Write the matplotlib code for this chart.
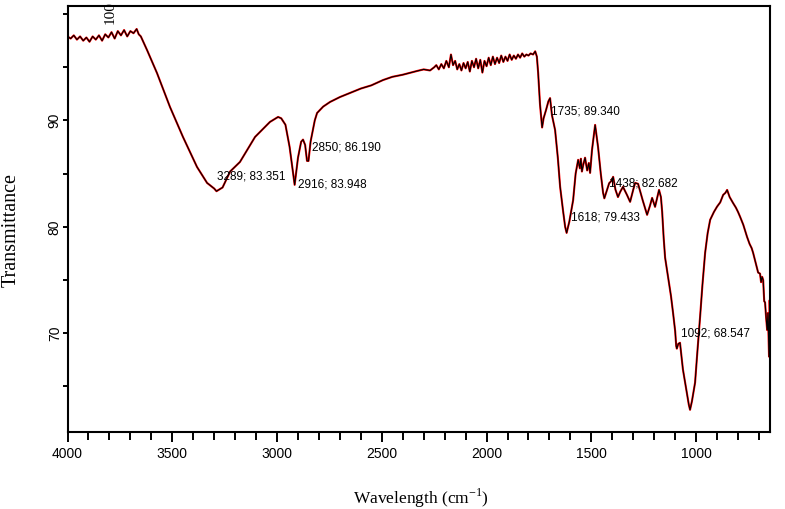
import matplotlib
matplotlib.use('Agg')
import matplotlib.pyplot as plt
from matplotlib.ticker import MultipleLocator

# FTIR spectrum, values
wavenumber = [
    4000, 3985, 3970, 3955, 3940, 3925, 3910, 3895, 3880, 3865, 3850, 3835, 3820,
    3805, 3790, 3775, 3760, 3745, 3730, 3715, 3700, 3685, 3670, 3660, 3650,
    3620, 3573, 3511, 3449, 3382, 3334, 3300, 3289, 3260, 3224, 3177, 3105,
    3034, 2995, 2980, 2960, 2940, 2916, 2900, 2885, 2876, 2866, 2857, 2850,
    2840, 2820, 2809, 2780, 2747, 2700, 2652, 2600, 2550, 2494, 2450, 2400,
    2332, 2300, 2270, 2250,
    2240, 2228, 2216, 2204, 2192, 2180, 2170, 2160, 2150, 2140, 2130, 2120,
    2110, 2100, 2090, 2080, 2070, 2060, 2050, 2040, 2030, 2020, 2010, 2000,
    1990, 1980, 1970, 1960, 1950, 1940, 1930, 1920, 1910, 1900, 1890, 1880,
    1870, 1860, 1850, 1840, 1830, 1820, 1810, 1800, 1790, 1778, 1768, 1760,
    1754, 1745, 1735, 1728, 1716, 1705, 1697, 1688, 1673, 1660, 1649, 1635,
    1625, 1618, 1605, 1587, 1575, 1563, 1555, 1550, 1545, 1539, 1530, 1520,
    1512, 1506, 1497, 1482, 1468, 1455, 1444, 1438, 1425, 1415, 1405, 1396,
    1385, 1373, 1362, 1349, 1330, 1315, 1300, 1291, 1277, 1255, 1234, 1220,
    1210, 1196, 1185, 1177, 1168, 1162, 1155, 1148, 1134, 1120, 1110, 1100,
    1095, 1092, 1085, 1077, 1063, 1043, 1035, 1029, 1020, 1005, 995, 981,
    970, 957, 945, 933, 915, 900, 885, 871, 860, 852, 840, 824, 810, 800,
    790, 775, 757, 745, 735, 728, 718, 710, 704, 695, 690, 685, 680, 675,
    671, 666, 661, 657, 652, 649, 647,
]
transmittance = [
    97.9, 97.7, 98.0, 97.6, 97.9, 97.5, 97.8, 97.4, 97.9, 97.6, 98.0, 97.5, 98.1,
    97.8, 98.3, 97.7, 98.4, 98.0, 98.5, 97.9, 98.4, 98.2, 98.6, 98.1, 97.9,
    96.6, 94.46, 91.27, 88.45, 85.63, 84.13, 83.6, 83.35, 83.7, 85.2, 86.1, 88.45,
    89.86, 90.33, 90.2, 89.6, 87.5, 83.95, 86.5, 88.0, 88.2, 87.7, 86.2, 86.19,
    88.0, 90.0, 90.7, 91.3, 91.74, 92.2, 92.58, 93.0, 93.3, 93.8, 94.1, 94.3,
    94.65, 94.8, 94.7, 95.0,
    95.2, 94.8, 95.3, 94.9, 95.6, 95.0, 96.2, 95.2, 95.6, 94.8, 95.3, 94.7,
    95.4, 94.9, 95.5, 94.6, 95.6, 95.0, 95.8, 94.9, 95.7, 94.5, 95.6, 95.1,
    95.9, 95.2, 96.0, 95.3, 95.9, 95.4, 96.1, 95.5, 96.0, 95.6, 96.2, 95.7,
    96.1, 95.8, 96.2, 95.9, 96.3, 96.0, 96.2, 96.1, 96.3, 96.2, 96.5, 96.0,
    94.5, 91.5, 89.34, 90.2, 91.0, 91.8, 92.1, 90.5, 89.1, 86.5, 83.76, 81.5,
    80.0, 79.43, 80.5, 82.5, 85.0, 86.3, 85.5, 86.4, 85.2, 85.8, 86.5, 85.3,
    86.0, 85.07, 87.2, 89.58, 87.5, 85.0, 83.2, 82.68, 83.5, 84.1, 84.3, 84.7,
    83.5, 82.8, 83.3, 83.76, 83.0, 82.35, 83.5, 84.13, 84.04, 82.5, 81.13, 82.0,
    82.72, 81.88, 82.8, 83.47, 82.8, 81.4, 79.0, 77.1, 75.3, 73.5, 71.9, 70.2,
    68.8, 68.55, 69.0, 69.1, 66.6, 64.2, 63.3, 62.8, 63.6, 65.35, 68.0, 71.55,
    74.5, 77.56, 79.4, 80.66, 81.4, 81.9, 82.3, 83.0, 83.2, 83.47, 82.8, 82.25, 81.8, 81.4,
    80.94, 80.2, 79.06, 78.4, 78.0, 77.56, 76.8, 76.2, 75.7, 75.6, 74.8, 75.3, 75.0, 73.0,
    72.9, 71.5, 70.3, 71.9, 67.8, 73.1, 71.5,
]

# peak labels: text, position of text (wn, T)
peak_labels = ['3289; 83.351', '2916; 83.948', '2850; 86.190', '1735; 89.340',
               '1618; 79.433', '1438; 82.682', '1092; 68.547']
label_wn = [3286, 2900, 2832, 1692, 1597, 1415, 1072]
label_t = [84.7, 83.94, 87.5, 90.8, 80.85, 84.04, 69.95]

sans = ['Liberation Sans', 'DejaVu Sans']
serif = ['Liberation Serif', 'DejaVu Serif']
plt.rcParams['mathtext.fontset'] = 'custom'
plt.rcParams['mathtext.rm'] = 'Liberation Serif'

fig = plt.figure(figsize=(7.85, 5.09), dpi=100)
ax = fig.add_axes([0.086, 0.151, 0.895, 0.837])

ax.plot(wavenumber, transmittance, color='red', lw=1.5)
ax.plot(wavenumber, transmittance, color='black', lw=0.8)

ax.set_xlim(4000, 647)
ax.set_ylim(60.7, 100.75)

ax.xaxis.set_major_locator(MultipleLocator(500))
ax.xaxis.set_minor_locator(MultipleLocator(100))
ax.set_yticks([70, 80, 90, 100])
ax.set_yticklabels(['70', '80', '90', ''])
ax.yaxis.set_minor_locator(MultipleLocator(5))

ax.tick_params(which='both', direction='out', width=1.4, colors='black')
ax.tick_params(axis='x', which='major', length=7, pad=4, labelsize=10)
ax.tick_params(axis='x', which='minor', length=6)
ax.tick_params(axis='y', which='major', length=3.6, pad=0.5, labelsize=10)
ax.tick_params(axis='y', which='minor', length=3.6)
for lab in ax.get_xticklabels():
    lab.set_family(sans)
for lab in ax.get_yticklabels():
    lab.set_family(sans)
    lab.set_rotation(90)
    lab.set_va('center')

for sp in ax.spines.values():
    sp.set_linewidth(1.5)

# the misplaced "100" label at the top
ax.text(3797, 100.1, '100', rotation=90, ha='center', va='center',
        fontsize=11, family=serif, clip_on=False)

for txt, x, y in zip(peak_labels, label_wn, label_t):
    ax.text(x, y, txt, ha='left', va='center', fontsize=8.5, family=sans)

fig.text(0.014, 0.548, 'Transmittance', rotation=90, ha='center', va='center',
         fontsize=14.5, family=serif)
fig.text(0.536, 0.02, r'Wavelength (cm$^{\mathregular{-1}}$)', ha='center',
         va='center', fontsize=12.5, family=serif)

fig.savefig('out.png', dpi=100)
